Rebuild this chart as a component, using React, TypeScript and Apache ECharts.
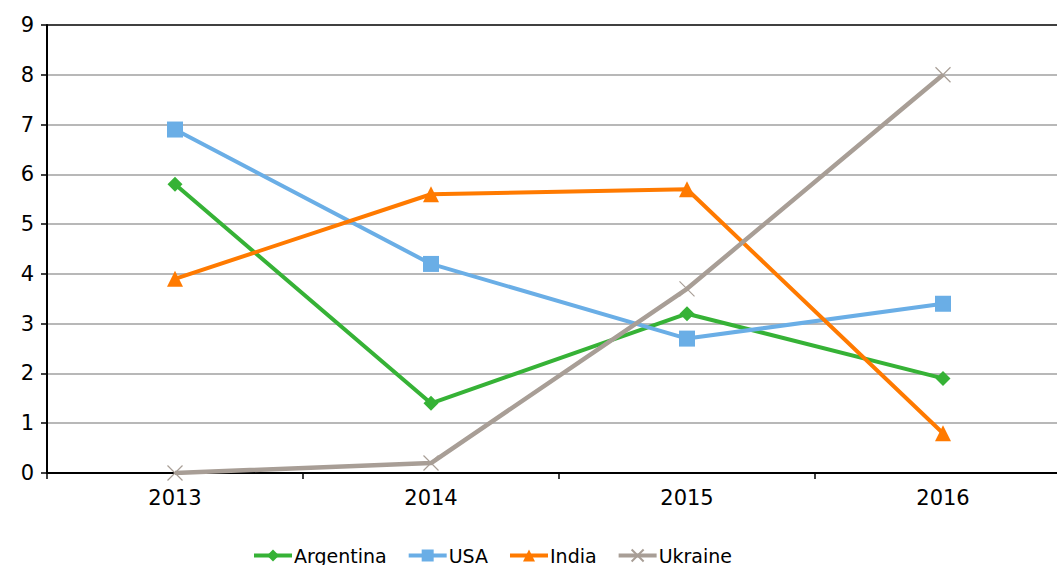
import React, { useEffect, useRef } from "react";
import * as echarts from "echarts";

const years = ["2013", "2014", "2015", "2016"];
const argentina = [5.8, 1.4, 3.2, 1.9];
const usa = [6.9, 4.2, 2.7, 3.4];
const india = [3.9, 5.6, 5.7, 0.8];
const ukraine = [0, 0.2, 3.7, 8.0];

const FONT = "DejaVu Sans";

export default function App() {
  const ref = useRef<HTMLDivElement>(null);
  useEffect(() => {
    const chart = echarts.init(ref.current!, null, { renderer: "svg" });
    const gridColors = ["#a0a0a0", "#a0a0a0", "#a0a0a0", "#a0a0a0", "#a0a0a0", "#a0a0a0", "#a0a0a0", "#a0a0a0", "#a0a0a0", "#000000"];
    const mk = (name: string, data: number[], color: string, symbol: string, size: number, extra: any = {}) => ({
      name,
      type: "line",
      data,
      symbol,
      symbolSize: size,
      lineStyle: { color, width: 4 },
      itemStyle: { color, ...extra },
      emphasis: { disabled: true },
    });
    chart.setOption({
      animation: false,
      textStyle: { fontFamily: FONT },
      grid: { left: 47, right: 9, top: 25, bottom: 92, containLabel: false },
      legend: {
        bottom: -5,
        left: 247,
        itemWidth: 38,
        itemHeight: 15,
        itemGap: 20,
        lineStyle: { width: 4 },
        textStyle: { fontFamily: FONT, fontSize: 19, color: "#000", padding: [0, 0, 0, -3] },
        data: ["Argentina", "USA", "India", "Ukraine"],
      },
      xAxis: {
        type: "category",
        data: years,
        boundaryGap: true,
        axisLine: { lineStyle: { color: "#000", width: 2 } },
        axisTick: { show: true, interval: 0, length: 6, lineStyle: { color: "#000", width: 1.5 } },
        axisLabel: { fontFamily: FONT, fontSize: 21, color: "#000", margin: 14 },
      },
      yAxis: {
        type: "value",
        min: 0,
        max: 9,
        interval: 1,
        axisLine: { show: true, lineStyle: { color: "#000", width: 2 } },
        axisTick: { show: true, length: 6, lineStyle: { color: "#000", width: 1.5 } },
        axisLabel: { fontFamily: FONT, fontSize: 21, color: "#000", margin: 13 },
        splitLine: { show: true, lineStyle: { color: gridColors, width: 1.5 } },
      },
      series: [
        mk("Argentina", argentina, "#36b236", "diamond", 15),
        mk("USA", usa, "#6aaee6", "rect", 16),
        mk("India", india, "#ff7a00", "triangle", 16),
        {
          ...mk("Ukraine", ukraine, "#a89e96", "path://M0,0L10,10M10,0L0,10", 15, {
            borderColor: "#a89e96",
            borderWidth: 1.2,
            color: "none",
          }),
          lineStyle: { color: "#a89e96", width: 4.5 },
        },
      ],
    });
    return () => chart.dispose();
  }, []);
  return (
    <div style={{ width: 1057, height: 565, position: "absolute", left: 0, top: 0, overflow: "hidden" }}>
      <div ref={ref} style={{ width: 1080, height: 565 }} />
    </div>
  );
}
